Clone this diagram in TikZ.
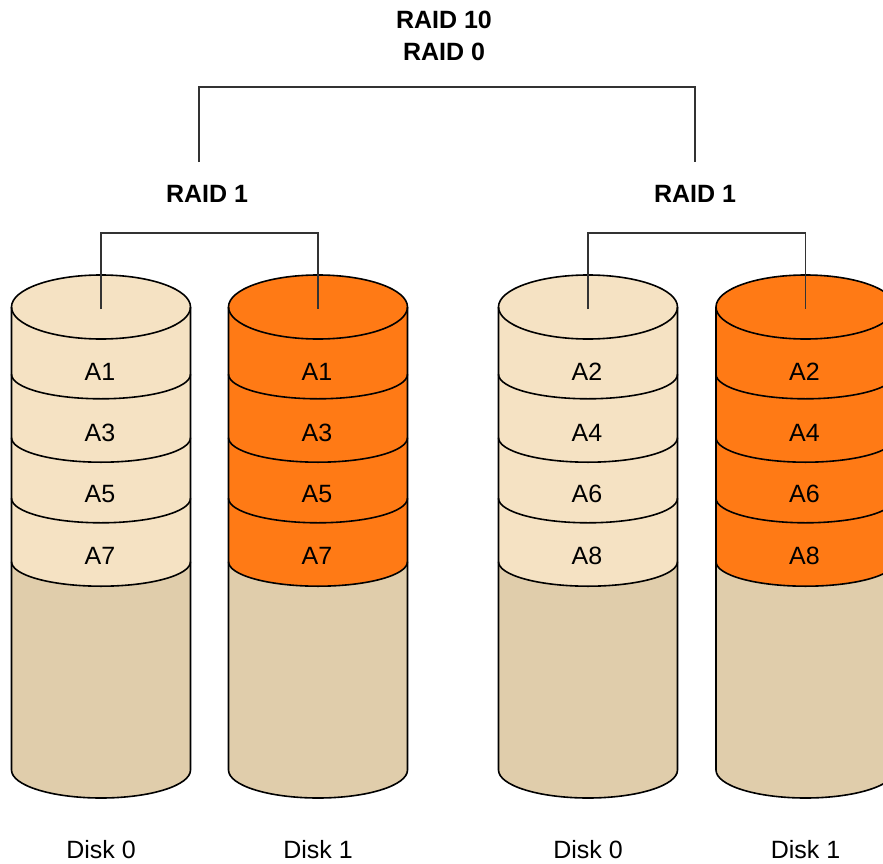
\documentclass[tikz,border=0pt]{standalone}
\usepackage{fontspec}
\setmainfont{Liberation Sans}
\definecolor{lightbeige}{HTML}{F5E2C3}
\definecolor{diskorange}{HTML}{FF7A15}
\definecolor{disktan}{HTML}{E0CDAB}
\definecolor{connline}{HTML}{333333}
\tikzset{
  edgeline/.style={line width=1.6pt, draw=black},
  conn/.style={line width=1.5pt, draw=connline},
  seglabel/.style={font=\fontsize{25}{29}\selectfont, inner sep=0pt},
  raidlabel/.style={font=\fontsize{25}{30}\selectfont\bfseries, inner sep=0pt},
}
\begin{document}
\begin{tikzpicture}[x=1pt,y=1pt]
\useasboundingbox (0,0) rectangle (883,-864);
\clip (0,0) rectangle (883,-864);
\foreach \n/\cx/\col/\la/\lb/\lc/\ld/\dl in {
  d1/101/lightbeige/A1/A3/A5/A7/Disk 0,
  d2/318/diskorange/A1/A3/A5/A7/Disk 1,
  d3/588/lightbeige/A2/A4/A6/A8/Disk 0,
  d4/805.5/diskorange/A2/A4/A6/A8/Disk 1}{
  \fill[disktan] (\cx-89.5,-307) -- (\cx-89.5,-770)
    arc[start angle=180,end angle=360,x radius=89.5,y radius=28]
    -- (\cx+89.5,-307) -- cycle;
  \fill[\col] (\cx-89.5,-307) -- (\cx-89.5,-561.7)
    arc[start angle=180,end angle=360,x radius=89.5,y radius=24.5]
    -- (\cx+89.5,-307) -- cycle;
  \filldraw[fill=\col, edgeline] (\cx,-307) ellipse[x radius=89.5,y radius=32];
  \foreach \s in {374.3,437.7,498.3,561.7}{
    \draw[edgeline] (\cx-89.5,-\s) arc[start angle=180,end angle=360,x radius=89.5,y radius=24.5];
  }
  \draw[edgeline] (\cx-89.5,-307) -- (\cx-89.5,-770)
    arc[start angle=180,end angle=360,x radius=89.5,y radius=28]
    -- (\cx+89.5,-307);
  \node[seglabel] (\n-a) at (\cx-1,-372) {\la};
  \node[seglabel] (\n-b) at (\cx-1,-433) {\lb};
  \node[seglabel] (\n-c) at (\cx-1,-494) {\lc};
  \node[seglabel] (\n-d) at (\cx-1,-556) {\ld};
  \node[seglabel] (\n-name) at (\cx,-850) {\dl};
  \coordinate (\n-top) at (\cx,-309);
}
\node[raidlabel] (raid10) at (444,-20) {RAID 10};
\node[raidlabel] (raid0) at (444,-52) {RAID 0};
\node[raidlabel] (raid1a) at (207,-194) {RAID 1};
\node[raidlabel] (raid1b) at (695,-194) {RAID 1};
\coordinate (m1) at (199,-162);
\coordinate (m2) at (695,-162);
\draw[conn] (m1) -- ++(0,75) -| (m2);
\draw[conn] (d1-top) -- ++(0,76) -| (d2-top);
\draw[conn] (d3-top) -- ++(0,76) -| (d4-top);
\end{tikzpicture}
\end{document}
